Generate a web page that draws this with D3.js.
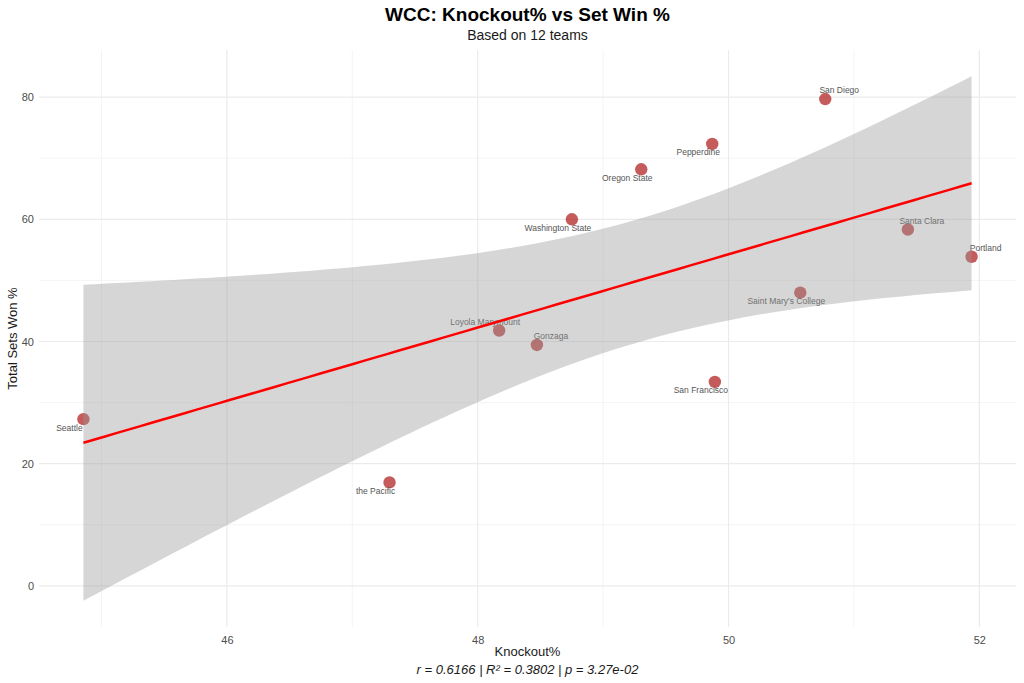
<!DOCTYPE html>
<html><head><meta charset="utf-8">
<script src="https://cdn.jsdelivr.net/npm/d3@7"></script>
<style>body{margin:0;background:#fff}svg{display:block;font-family:"Liberation Sans",Arial,sans-serif}</style>
</head><body><svg id="c" width="1024" height="683"></svg>
<script>
const teams = ["Seattle","the Pacific","Loyola Marymount","Gonzaga","Washington State","Oregon State","Pepperdine","San Diego","Santa Clara","Portland","Saint Mary's College","San Francisco"];
const knockoutPct = [44.856,47.297,48.171,48.472,48.751,49.304,49.870,50.771,51.430,51.938,50.572,49.891];
const setWinPct = [27.29,16.94,41.80,39.43,60.00,68.19,72.33,79.69,58.33,53.87,47.99,33.38];
const xTicks = [46,48,50,52];
const yTicks = [0,20,40,60,80];
const xMinor = [45,47,49,51];
const yMinor = [10,30,50,70];
// label placement side per team (h: -1 left / 1 right, v: -1 above / 1 below)
const labelH = [-1,-1,-1,1,-1,-1,-1,1,1,1,-1,-1];
const labelV = [1,1,-1,-1,1,1,1,-1,-1,-1,1,1];
const title = "WCC: Knockout% vs Set Win %";
const subtitle = "Based on 12 teams";
const caption = "r = 0.6166 | R² = 0.3802 | p = 3.27e-02";

const svg = d3.select("#c");
const L = 39, R = 1016, T = 50, B = 627;

// linear fit and 95% CI (t, df=10)
const n = knockoutPct.length;
const mx = d3.mean(knockoutPct), my = d3.mean(setWinPct);
let sxx=0, sxy=0, syy=0;
for (let i=0;i<n;i++){const dx=knockoutPct[i]-mx, dy=setWinPct[i]-my; sxx+=dx*dx; sxy+=dx*dy; syy+=dy*dy;}
const slope = sxy/sxx, icpt = my - slope*mx;
const s = Math.sqrt((syy - slope*sxy)/(n-2));
const tq = 2.228139;
const [x0,x1] = d3.extent(knockoutPct);
const fit = d3.range(80).map(i => {
  const x = x0 + (x1-x0)*i/79;
  const yh = icpt + slope*x;
  const se = s*Math.sqrt(1/n + (x-mx)*(x-mx)/sxx);
  return {x, y: yh, lo: yh - tq*se, hi: yh + tq*se};
});

const xr = x1-x0;
const x = d3.scaleLinear().domain([x0-0.05*xr, x1+0.05*xr]).range([L,R]);
const ylo = Math.min(d3.min(setWinPct), d3.min(fit, d=>d.lo));
const yhi = Math.max(d3.max(setWinPct), d3.max(fit, d=>d.hi));
const yr = yhi-ylo;
const y = d3.scaleLinear().domain([ylo-0.05*yr, yhi+0.05*yr]).range([B,T]);

// grid
const g = svg.append("g");
g.selectAll(".xm").data(xMinor).join("line").attr("x1",d=>x(d)).attr("x2",d=>x(d)).attr("y1",T).attr("y2",B).attr("stroke","#f1f1f1").attr("stroke-width",0.8);
g.selectAll(".ym").data(yMinor).join("line").attr("y1",d=>y(d)).attr("y2",d=>y(d)).attr("x1",L).attr("x2",R).attr("stroke","#f1f1f1").attr("stroke-width",0.8);
g.selectAll(".xM").data(xTicks).join("line").attr("x1",d=>x(d)).attr("x2",d=>x(d)).attr("y1",T).attr("y2",B).attr("stroke","#ebebeb").attr("stroke-width",1.2);
g.selectAll(".yM").data(yTicks).join("line").attr("y1",d=>y(d)).attr("y2",d=>y(d)).attr("x1",L).attr("x2",R).attr("stroke","#ebebeb").attr("stroke-width",1.2);

// axes labels via d3 axes
const xa = svg.append("g").attr("transform",`translate(0,${B})`).call(d3.axisBottom(x).tickValues(xTicks).tickSize(0).tickPadding(9).tickFormat(d3.format("d")));
xa.select(".domain").remove();
xa.selectAll("text").attr("fill","#4d4d4d").style("font-size","11px").style("font-family","Liberation Sans, Arial, sans-serif");
const ya = svg.append("g").attr("transform",`translate(${L},0)`).call(d3.axisLeft(y).tickValues(yTicks).tickSize(0).tickPadding(5).tickFormat(d3.format("d")));
ya.select(".domain").remove();
ya.selectAll("text").attr("fill","#4d4d4d").style("font-size","11px").style("font-family","Liberation Sans, Arial, sans-serif");

// points
svg.append("g").selectAll("circle").data(teams).join("circle")
  .attr("cx",(d,i)=>x(knockoutPct[i])).attr("cy",(d,i)=>y(setWinPct[i])).attr("r",6.2)
  .attr("fill","#B22222").attr("fill-opacity",0.74);

// labels
svg.append("g").selectAll("text").data(teams).join("text")
  .attr("x",(d,i)=>x(knockoutPct[i]) + labelH[i]*14)
  .attr("y",(d,i)=>y(setWinPct[i]) + labelV[i]*8.5)
  .attr("dy","0.35em").attr("text-anchor","middle")
  .attr("fill","#555").style("font-size","8.5px").text(d=>d);

// ribbon + line
svg.append("path").datum(fit)
  .attr("d", d3.area().x(d=>x(d.x)).y0(d=>y(d.lo)).y1(d=>y(d.hi)))
  .attr("fill","#999999").attr("fill-opacity",0.4);
svg.append("path").datum(fit)
  .attr("d", d3.line().x(d=>x(d.x)).y(d=>y(d.y)))
  .attr("fill","none").attr("stroke","#ff0000").attr("stroke-width",2.5);

// titles
const cx = (L+R)/2;
svg.append("text").attr("x",cx).attr("y",21).attr("text-anchor","middle").style("font-size","19px").style("font-weight","bold").attr("fill","#000").text(title);
svg.append("text").attr("x",cx).attr("y",40).attr("text-anchor","middle").style("font-size","14px").attr("fill","#1a1a1a").text(subtitle);
svg.append("text").attr("x",cx).attr("y",656).attr("text-anchor","middle").style("font-size","13px").attr("fill","#1a1a1a").text("Knockout%");
svg.append("text").attr("x",cx).attr("y",674).attr("text-anchor","middle").style("font-size","13px").style("font-style","italic").attr("fill","#1a1a1a").text(caption);
svg.append("text").attr("transform",`translate(17,${(T+B)/2}) rotate(-90)`).attr("text-anchor","middle").style("font-size","13px").attr("fill","#1a1a1a").text("Total Sets Won %");
</script></body></html>
